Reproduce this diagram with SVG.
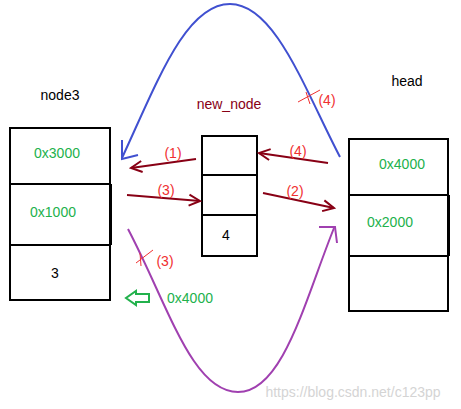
<svg xmlns="http://www.w3.org/2000/svg" width="461" height="409" viewBox="0 0 461 409">
<style>
.box{fill:none;stroke:#000;stroke-width:2}
.t{font-family:"Liberation Sans",Arial,sans-serif;font-size:14px;text-anchor:middle;dominant-baseline:central}
.g{fill:#22B14C}
.r{fill:#F03030;font-size:14px}
.dr{stroke:#880015;stroke-width:2;fill:none}
.blue{stroke:#4050D0;stroke-width:2;fill:none}
.pur{stroke:#A040B0;stroke-width:2;fill:none}
.x{stroke:#F03030;stroke-width:1;fill:none}
</style>
<defs>
<marker id="ah" markerUnits="userSpaceOnUse" markerWidth="14" markerHeight="14" refX="12" refY="6" orient="auto" viewBox="0 0 14 12">
<path d="M1,0.5 L12,6 L1,11.5" fill="none" stroke="#880015" stroke-width="2"/>
</marker>
</defs>
<rect width="461" height="409" fill="#fff"/>
<g id="node3">
<text class="t" x="60" y="95">node3</text>
<rect class="box" x="10" y="128" width="100" height="172"/>
<line class="box" x1="10" y1="184" x2="111" y2="184"/>
<line class="box" x1="10" y1="245" x2="111" y2="245"/>
<line class="box" x1="111" y1="184" x2="111" y2="245"/>
<text class="t g" x="57" y="153">0x3000</text>
<text class="t g" x="53" y="212">0x1000</text>
<text class="t" x="55" y="273">3</text>
</g>
<g id="new_node">
<text class="t" x="229" y="104" fill="#880015">new_node</text>
<rect class="box" x="202" y="136" width="55" height="120"/>
<line class="box" x1="202" y1="175" x2="257" y2="175"/>
<line class="box" x1="202" y1="215" x2="257" y2="215"/>
<text class="t" x="226" y="235">4</text>
</g>
<g id="head">
<text class="t" x="407" y="81">head</text>
<rect class="box" x="349" y="139" width="99" height="172"/>
<line class="box" x1="349" y1="195" x2="449" y2="195"/>
<line class="box" x1="349" y1="256" x2="449" y2="256"/>
<line class="box" x1="449" y1="195" x2="449" y2="256"/>
<text class="t g" x="402" y="164">0x4000</text>
<text class="t g" x="390" y="222">0x2000</text>
</g>
<g id="connectors">
<line class="dr" x1="196" y1="159" x2="131" y2="168" marker-end="url(#ah)"/>
<line class="dr" x1="328" y1="163" x2="259" y2="153" marker-end="url(#ah)"/>
<line class="dr" x1="127" y1="195" x2="200" y2="201" marker-end="url(#ah)"/>
<line class="dr" x1="263" y1="193" x2="334" y2="208" marker-end="url(#ah)"/>
<path class="blue" d="M340,157 C305,90 275,4 230,4 C186,4 158,80 122,158"/>
<path class="blue" d="M122,140 L122,159 L138,155"/>
<path class="pur" d="M128,229 C168,305 192,392 238,392 C283,392 305,300 334,228"/>
<path class="pur" d="M319,227 L335,227 L337,243"/>
<path d="M149,294 L136,294 L136,291 L126,298 L136,305 L136,302 L149,302 Z" fill="none" stroke="#22B14C" stroke-width="2"/>
<path class="x" d="M298,102 L320,90 M306,92 L310,104"/>
<path class="x" d="M136,263 L153,250 M140,253 L141,266"/>
</g>
<g id="labels">
<text class="t r" x="173" y="153">(1)</text>
<text class="t r" x="298" y="151">(4)</text>
<text class="t r" x="166" y="190">(3)</text>
<text class="t r" x="295" y="191">(2)</text>
<text class="t r" x="327" y="100">(4)</text>
<text class="t r" x="165" y="261">(3)</text>
<text class="t g" x="190" y="298">0x4000</text>
<text class="t" x="353" y="392" fill="#d4d4d4">https://blog.csdn.net/c123pp</text>
</g>
</svg>
